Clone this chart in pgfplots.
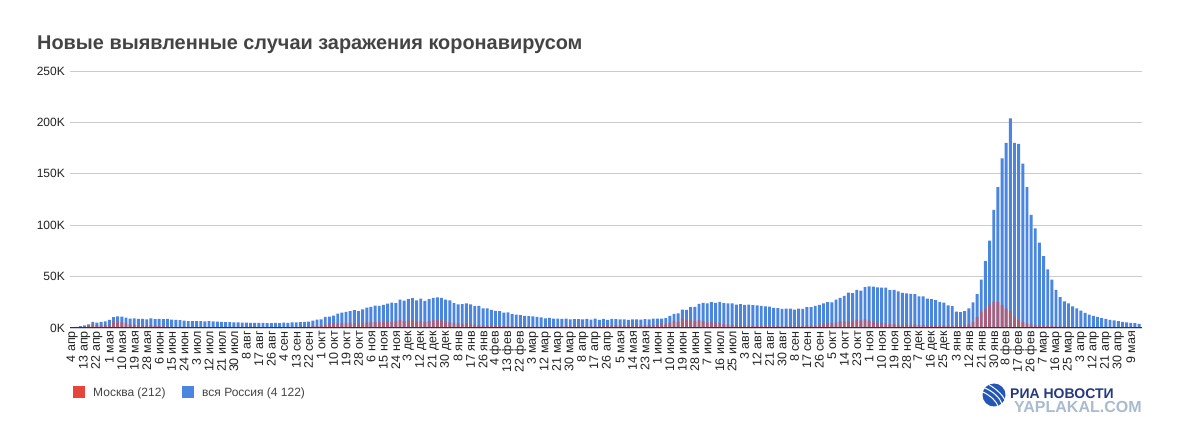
\documentclass[border=0pt]{standalone}
\usepackage{fontspec}
\setmainfont{Liberation Sans}
\usepackage{pgfplots}
\pgfplotsset{compat=1.18}
\usepackage{pgfplotstable}
\definecolor{ruBlue}{HTML}{4A86E0}
\definecolor{mosRed}{HTML}{E5453A}
\definecolor{titleGray}{HTML}{444444}
\definecolor{tickGray}{HTML}{222222}
\definecolor{legendGray}{HTML}{444444}
\definecolor{gridGray}{HTML}{CCCCCC}
\definecolor{baseGray}{HTML}{333333}
\definecolor{riaBlue}{HTML}{243A7E}
\definecolor{globeBlue}{HTML}{2457B5}
\definecolor{wmGray}{HTML}{A9BBCE}

\pgfplotstableread{
x R M
0 582 434
3 1154 697
6 1786 1124
9 2558 1355
12 3448 1959
15 6060 3570
18 5236 2612
21 5966 2631
24 6411 2957
27 7933 3075
30 10581 5948
33 11231 5858
36 11012 5392
39 10028 4703
42 9200 3505
45 9263 3238
48 8894 2234
51 8946 2140
54 8371 2054
57 9268 2595
60 8536 2040
63 8855 1855
66 8595 1570
69 8779 1572
72 8246 1360
75 7790 1200
78 7728 1070
81 7176 1000
84 6800 890
87 6700 660
90 6760 680
93 6611 630
96 6500 590
99 6600 620
102 6400 640
105 6200 690
108 5840 580
111 5800 650
114 5630 690
117 5500 680
120 5400 680
123 5200 700
126 5200 690
129 5100 670
132 5080 660
135 4890 640
138 4870 630
141 4850 660
144 4700 640
147 4990 670
150 4730 660
153 5110 690
156 5100 700
159 5360 720
162 5450 730
165 5670 880
168 6000 1000
171 6200 1100
174 7200 1800
177 8100 2300
180 8500 2400
183 10800 3500
186 11100 4400
189 12100 4900
192 13900 4500
195 14900 4600
198 15700 4900
201 16500 5300
204 17300 4500
207 16500 4100
210 18100 5200
213 19800 5400
216 20600 5500
219 21700 5700
222 21600 5800
225 22600 6300
228 23600 6400
231 24600 5900
234 24300 6500
237 27500 7700
240 26700 6800
243 28100 7200
246 29000 7600
249 26800 6200
252 28600 7000
255 26400 5800
258 28200 6800
261 29300 7300
264 29900 8200
267 29200 7400
270 27700 6100
273 26900 5500
276 24200 4800
279 22900 4500
282 23300 4300
285 23900 4400
288 22900 3800
291 21200 3200
294 21400 3100
297 19200 2200
300 19000 2500
303 17600 2100
306 16600 2000
309 16300 1900
312 14900 1900
315 15100 1900
318 13600 1700
321 13000 1600
324 12600 1300
327 11700 1400
330 11500 1500
333 11400 1400
336 10800 1300
339 10300 1200
342 9400 1400
345 9800 1500
348 9200 1300
351 9100 1500
354 8900 1600
357 9000 1600
360 8300 1500
363 8700 1600
366 8600 1600
369 8300 1600
372 8800 1600
375 8200 1500
378 9000 1700
381 8000 1700
384 8800 2000
387 8000 2200
390 8800 2500
393 8700 2600
396 8300 2400
399 8400 2200
402 7800 2300
405 8300 2500
408 8300 2500
411 8200 2400
414 8600 2900
417 8400 2800
420 9000 3000
423 9000 3300
426 9000 3700
429 9600 4000
432 11700 5000
435 13700 7200
438 14200 6000
441 17900 9100
444 17600 7600
447 20200 7900
450 20500 7000
453 23500 7900
456 24400 6700
459 24000 5500
462 25100 5400
465 24500 5200
468 25300 4900
471 24200 3700
474 24000 3500
477 24000 3100
480 22800 2700
483 23300 2800
486 22600 2200
489 22700 2400
492 22200 2100
495 21900 2100
498 21600 2000
501 21000 1900
504 20800 1900
507 19500 1700
510 19300 1800
513 18600 1600
516 18900 1700
519 18800 1900
522 17900 1600
525 18900 2000
528 18600 1900
531 20200 2200
534 20200 2300
537 21400 2400
540 22500 3300
543 23900 3800
546 25200 4900
549 25000 4400
552 27700 5300
555 29400 6400
558 31300 6500
561 34300 6500
564 34000 7000
567 37100 8200
570 36400 7300
573 39800 8300
576 40400 7200
579 40200 5600
582 39400 5000
585 39200 4800
588 39300 4400
591 36800 3800
594 37100 3700
597 35700 3300
600 34100 3400
603 33600 3300
606 33300 3200
609 32900 3500
612 30700 2700
615 30700 3100
618 28500 2800
621 28200 2800
624 27000 2600
627 25400 2300
630 24700 2500
633 21900 2100
636 21200 2300
639 16000 1800
642 15500 2200
645 16500 2300
648 19000 3500
651 25000 6000
654 33000 10600
657 47000 15600
660 65000 18800
663 85000 22700
666 115000 25600
669 137000 25100
672 165000 22600
675 180000 18800
678 203900 16700
681 180000 11000
684 179000 8000
687 160000 6000
690 137000 4500
693 110000 3500
696 97000 3000
699 83000 2600
702 70000 2300
705 57000 2100
708 47000 1900
711 37000 1700
714 30000 1600
717 26000 1500
720 24000 1400
723 21000 1200
726 19000 1100
729 17000 1000
732 14800 870
735 13000 780
738 11900 700
741 10900 670
744 9500 550
747 8800 560
750 8000 500
753 7400 460
756 6800 400
759 6000 350
762 5500 300
765 4900 230
768 4800 260
771 4122 212
}\data

\begin{document}
\begin{tikzpicture}
\path[use as bounding box, fill=white] (0,0) rectangle (1177pt,436pt);
\node[anchor=base west, font=\fontsize{19.9}{22}\selectfont\bfseries, text=titleGray, inner sep=0pt] at (37pt,386pt) {Новые выявленные случаи заражения коронавирусом};
\begin{axis}[
  at={(70pt,108pt)}, anchor=south west,
  scale only axis, width=1072pt, height=257pt,
  xmin=-1.45, xmax=773.1, ymin=0, ymax=250000,
  axis line style={draw=none},
  major tick length=0pt,
  scaled y ticks=false,
  ytick={0,50000,100000,150000,200000,250000},
  yticklabels={0K,50K,100K,150K,200K,250K},
  ymajorgrids, grid style={draw=gridGray, line width=0.8pt},
  xtick={0,9,...,765},
  xticklabels={4 апр,13 апр,22 апр,1 мая,10 мая,19 мая,28 мая,6 июн,15 июн,24 июн,3 июл,12 июл,21 июл,30 июл,8 авг,17 авг,26 авг,4 сен,13 сен,22 сен,1 окт,10 окт,19 окт,28 окт,6 ноя,15 ноя,24 ноя,3 дек,12 дек,21 дек,30 дек,8 янв,17 янв,26 янв,4 фев,13 фев,22 фев,3 мар,12 мар,21 мар,30 мар,8 апр,17 апр,26 апр,5 мая,14 мая,23 мая,1 июн,10 июн,19 июн,28 июн,7 июл,16 июл,25 июл,3 авг,12 авг,21 авг,30 авг,8 сен,17 сен,26 сен,5 окт,14 окт,23 окт,1 ноя,10 ноя,19 ноя,28 ноя,7 дек,16 дек,25 дек,3 янв,12 янв,21 янв,30 янв,8 фев,17 фев,26 фев,7 мар,16 мар,25 мар,3 апр,12 апр,21 апр,30 апр,9 мая},
  xticklabel style={rotate=90, anchor=east, inner xsep=3pt, inner ysep=0pt, font=\fontsize{12.5}{14}\selectfont, text=tickGray},
  yticklabel style={anchor=east, inner sep=0pt, xshift=-5pt, font=\fontsize{12}{14}\selectfont, text=tickGray},
]
\addplot[ybar, bar width=2.1, bar shift=0pt, fill=ruBlue, draw=none] table[x=x,y=R]{\data};
\addplot[ybar, bar width=2.1, bar shift=0pt, fill=mosRed, fill opacity=0.6, draw=none] table[x=x,y=M]{\data};
\draw[baseGray, line width=1.2pt] (axis cs:-1.45,0) -- (axis cs:773.1,0);
\end{axis}
% legend
\fill[mosRed] (73pt,38pt) rectangle (85pt,50pt);
\node[anchor=base west, font=\fontsize{12}{14}\selectfont, text=legendGray, inner sep=0pt] at (93pt,39.5pt) {Москва (212)};
\fill[ruBlue] (182pt,38pt) rectangle (194pt,50pt);
\node[anchor=base west, font=\fontsize{12}{14}\selectfont, text=legendGray, inner sep=0pt] at (202pt,39.5pt) {вся Россия (4 122)};
% logo
\fill[globeBlue] (994pt,41pt) circle (11.5pt);
\draw[white, line width=1pt] (988pt,52pt) .. controls (996pt,47pt) and (1002pt,42pt) .. (1005pt,36pt);
\draw[white, line width=1pt] (985pt,48pt) .. controls (994pt,44pt) and (1000pt,38pt) .. (1002pt,32pt);
\draw[white, line width=1pt] (983pt,44pt) .. controls (991pt,40pt) and (996pt,35pt) .. (998pt,30pt);
\node[anchor=base west, font=\fontsize{14}{16}\selectfont\bfseries, text=riaBlue, inner sep=0pt] at (1010pt,37pt) {РИА НОВОСТИ};
\node[anchor=base west, font=\fontsize{16}{18}\selectfont\bfseries, text=wmGray, inner sep=0pt] at (1014pt,23pt) {YAPLAKAL.COM};
\end{tikzpicture}
\end{document}
